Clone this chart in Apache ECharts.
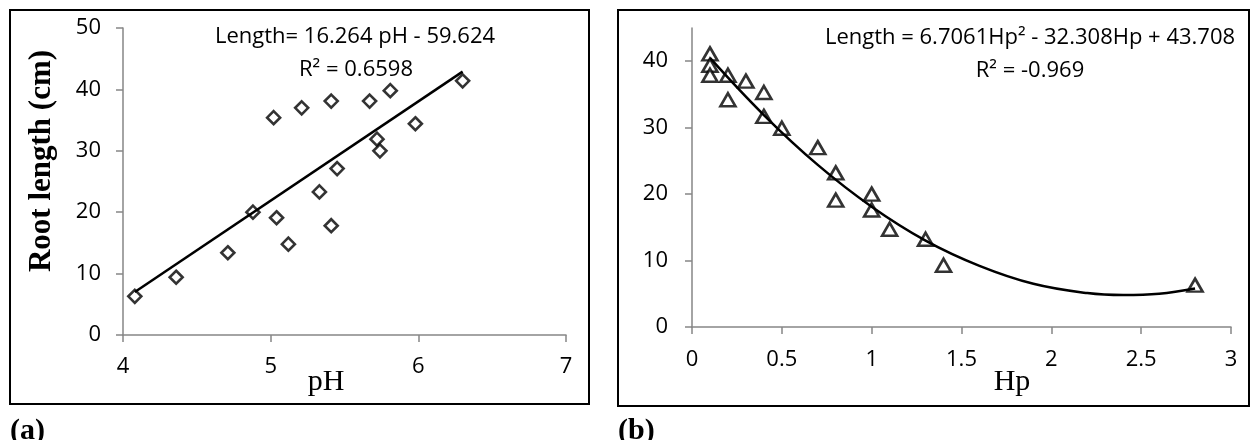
<!DOCTYPE html>
<html>
<head>
<meta charset="utf-8">
<script src="https://cdn.jsdelivr.net/npm/echarts@6/dist/echarts.min.js"></script>
<style>
html,body{margin:0;padding:0;background:#fff;}
#c{width:1250px;height:440px;}
</style>
</head>
<body>
<div id="c"></div>
<script>
// ---- Panel (a): root length vs pH ----
const phX = [4.08, 4.36, 4.71, 4.88, 5.04, 5.12, 5.02, 5.21, 5.41, 5.67, 5.81, 6.30, 5.98, 5.72, 5.74, 5.45, 5.33, 5.41];
const phY = [6.3, 9.4, 13.4, 20.0, 19.1, 14.8, 35.4, 37.0, 38.1, 38.1, 39.8, 41.4, 34.4, 31.9, 30.0, 27.1, 23.3, 17.8];
const phTrendX = [4.08, 6.30];
const phTrendY = [7.0, 42.9];
const phXTicks = [4, 5, 6, 7];
const phYTicks = [0, 10, 20, 30, 40, 50];

// ---- Panel (b): root length vs Hp ----
const hpX = [0.1, 0.1, 0.1, 0.2, 0.2, 0.3, 0.4, 0.4, 0.5, 0.7, 0.8, 0.8, 1.0, 1.0, 1.1, 1.3, 1.4, 2.8];
const hpY = [41.1, 39.4, 37.9, 37.9, 34.2, 37.0, 35.3, 31.7, 29.9, 27.0, 23.2, 19.1, 20.0, 17.6, 14.7, 13.2, 9.3, 6.3];
const hpCurveX = [0.1, 0.4, 0.7, 1.0, 1.3, 1.6, 1.9, 2.2, 2.4, 2.6, 2.8];
const hpCurveY = [40.5, 31.9, 24.4, 18.1, 13.0, 9.2, 6.5, 5.1, 4.8, 5.0, 5.8];
const hpXTicks = [0, 0.5, 1, 1.5, 2, 2.5, 3];
const hpYTicks = [0, 10, 20, 30, 40];

const eqA = 'Length= 16.264 pH - 59.624';
const r2A = 'R² = 0.6598';
const eqB = 'Length = 6.7061Hp² - 32.308Hp + 43.708';
const r2B = 'R² = -0.969';

const zip = (a, b) => a.map((v, i) => [v, b[i]]);
const SANS = '"Open Sans", sans-serif';
const SERIF = '"Liberation Serif", "DejaVu Serif", serif';
const AX = '#868686';

const axisCommon = {
  axisLine: {show: true, lineStyle: {color: AX, width: 1.5}},
  axisTick: {show: true, length: 7, lineStyle: {color: AX, width: 1.5}},
  splitLine: {show: false},
  axisLabel: {color: '#000', fontFamily: SANS, fontSize: 22}
};

const chart = echarts.init(document.getElementById('c'));
chart.setOption({
  animation: false,
  backgroundColor: '#fff',
  grid: [
    {left: 123, top: 28, width: 443, height: 307},
    {left: 692, top: 28, width: 539, height: 299}
  ],
  xAxis: [
    Object.assign({}, axisCommon, {gridIndex: 0, type: 'value', min: phXTicks[0], max: phXTicks[phXTicks.length-1], interval: 1,
      axisLabel: Object.assign({}, axisCommon.axisLabel, {margin: 21, customValues: phXTicks}),
      axisTick: Object.assign({}, axisCommon.axisTick, {customValues: phXTicks})}),
    Object.assign({}, axisCommon, {gridIndex: 1, type: 'value', min: 0, max: 3, interval: 0.5,
      axisLabel: Object.assign({}, axisCommon.axisLabel, {margin: 22, customValues: hpXTicks}),
      axisTick: Object.assign({}, axisCommon.axisTick, {customValues: hpXTicks})})
  ],
  yAxis: [
    Object.assign({}, axisCommon, {gridIndex: 0, type: 'value', min: 0, max: 50, interval: 10,
      axisLabel: Object.assign({}, axisCommon.axisLabel, {margin: 22, customValues: phYTicks}),
      axisTick: Object.assign({}, axisCommon.axisTick, {customValues: phYTicks})}),
    Object.assign({}, axisCommon, {gridIndex: 1, type: 'value', min: 0, max: 45, interval: 10,
      axisLabel: Object.assign({}, axisCommon.axisLabel, {margin: 24, customValues: hpYTicks}),
      axisTick: Object.assign({}, axisCommon.axisTick, {customValues: hpYTicks})})
  ],
  series: [
    {type: 'scatter', xAxisIndex: 0, yAxisIndex: 0, data: zip(phX, phY), symbol: 'diamond', symbolSize: [13, 13],
      itemStyle: {color: '#fff', borderColor: '#000', borderWidth: 2.6}, z: 2},
    {type: 'line', xAxisIndex: 0, yAxisIndex: 0, data: zip(phTrendX, phTrendY), symbol: 'none',
      lineStyle: {color: '#000', width: 2.5}, z: 3},
    {type: 'scatter', xAxisIndex: 1, yAxisIndex: 1, data: zip(hpX, hpY), symbol: 'triangle', symbolSize: [15, 13],
      itemStyle: {color: '#fff', borderColor: '#000', borderWidth: 2.6}, z: 2},
    {type: 'line', xAxisIndex: 1, yAxisIndex: 1, data: zip(hpCurveX, hpCurveY), symbol: 'none', smooth: 0.4,
      lineStyle: {color: '#000', width: 2.5}, z: 3}
  ],
  graphic: [
    {type: 'rect', shape: {x: 10, y: 10, width: 579, height: 394}, style: {fill: 'none', stroke: '#000', lineWidth: 2}, z: 10},
    {type: 'rect', shape: {x: 618, y: 10, width: 631, height: 396}, style: {fill: 'none', stroke: '#000', lineWidth: 2}, z: 10},
    {type: 'text', x: 355, y: 37, style: {text: eqA, font: '22px ' + SANS, fill: '#000', textAlign: 'center', textVerticalAlign: 'middle'}},
    {type: 'text', x: 356, y: 70, style: {text: r2A, font: '22px ' + SANS, fill: '#000', textAlign: 'center', textVerticalAlign: 'middle'}},
    {type: 'text', x: 1030, y: 38, style: {text: eqB, font: '22px ' + SANS, fill: '#000', textAlign: 'center', textVerticalAlign: 'middle'}},
    {type: 'text', x: 1030, y: 71, style: {text: r2B, font: '22px ' + SANS, fill: '#000', textAlign: 'center', textVerticalAlign: 'middle'}},
    {type: 'text', x: 326, y: 382, style: {text: 'pH', font: '30px ' + SERIF, fill: '#000', textAlign: 'center', textVerticalAlign: 'middle'}},
    {type: 'text', x: 1012, y: 382, style: {text: 'Hp', font: '30px ' + SERIF, fill: '#000', textAlign: 'center', textVerticalAlign: 'middle'}},
    {type: 'text', x: 42, y: 161, rotation: Math.PI / 2, style: {text: 'Root length (cm)', font: 'bold 31px ' + SERIF, fill: '#000', textAlign: 'center', textVerticalAlign: 'middle'}},
    {type: 'text', x: 10, y: 431, style: {text: '(a)', font: 'bold 30px ' + SERIF, fill: '#000', textAlign: 'left', textVerticalAlign: 'middle'}},
    {type: 'text', x: 618, y: 431, style: {text: '(b)', font: 'bold 30px ' + SERIF, fill: '#000', textAlign: 'left', textVerticalAlign: 'middle'}}
  ]
});
</script>
</body>
</html>
